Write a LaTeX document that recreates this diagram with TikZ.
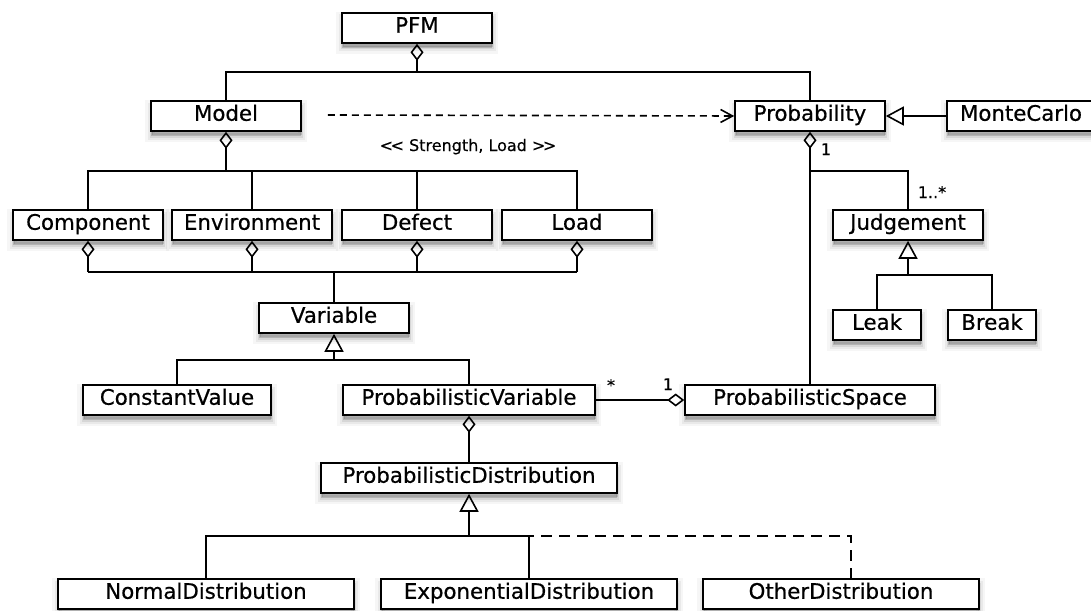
\documentclass[tikz,border=0pt]{standalone}
\usepackage{fontspec}
\setmainfont{DejaVu Sans}
\newfontfamily\clsfont{DejaVu Sans}[FakeBold=0.6]
\newfontfamily\lblfont{DejaVu Sans}[FakeBold=0.3]
\usetikzlibrary{arrows.meta,shadows}
\begin{document}
\begin{tikzpicture}[x=1pt,y=-1pt,
  shd/.style={
    general shadow={fill=black, draw=black, line width=12pt, opacity=0.035, shadow yshift=-5pt},
    general shadow={fill=black, draw=black, line width=7pt, opacity=0.05, shadow yshift=-5pt},
    general shadow={fill=black, draw=black, line width=3pt, opacity=0.08, shadow yshift=-5pt},
    general shadow={fill=black, opacity=0.15, shadow yshift=-4pt, shadow xshift=1pt}},
  cls/.style={shd, draw, line width=1.6pt, fill=white, inner sep=0pt, minimum height=30pt,
    font=\clsfont\fontsize{21.3}{21.3}\selectfont, text height=15.5pt, text depth=6pt},
  ln/.style={line width=1.6pt},
  agg/.style={ln, -{Diamond[open,length=17pt,width=13pt]}},
  gen/.style={ln, -{Triangle[open,length=18pt,width=19pt]}},
  dep/.style={ln, dash pattern=on 7pt off 5pt, -{Straight Barb[length=12pt,width=13pt]}},
  realdash/.style={ln, dash pattern=on 11pt off 7pt},
  lbl/.style={font=\lblfont\fontsize{16}{16}\selectfont, inner sep=0pt, anchor=base}]

\path[fill=white] (0,0) rectangle (1091,610);
\useasboundingbox (0,0) rectangle (1091,610);

% classes
\node[cls, minimum width=150pt] (pfm) at (417,28) {PFM};
\node[cls, minimum width=150pt] (model) at (226,116) {Model};
\node[cls, minimum width=150pt] (prob) at (810,116) {Probability};
\node[cls, minimum width=148pt] (mc) at (1021,116) {MonteCarlo};
\node[cls, minimum width=150pt] (comp) at (88,225) {Component};
\node[cls, minimum width=160pt] (env) at (252,225) {Environment};
\node[cls, minimum width=150pt] (defect) at (417,225) {Defect};
\node[cls, minimum width=150pt] (load) at (577,225) {Load};
\node[cls, minimum width=150pt] (judg) at (908,225) {Judgement};
\node[cls, minimum width=150pt] (var) at (334,318) {Variable};
\node[cls, minimum width=88pt] (leak) at (877,325) {Leak};
\node[cls, minimum width=88pt] (brk) at (992,325) {Break};
\node[cls, minimum width=188pt] (const) at (177,400) {ConstantValue};
\node[cls, minimum width=252pt] (pvar) at (469,400) {ProbabilisticVariable};
\node[cls, minimum width=250pt] (pspace) at (810,400) {ProbabilisticSpace};
\node[cls, minimum width=296pt] (pdist) at (469,478) {ProbabilisticDistribution};
\node[cls, minimum width=296pt] (normal) at (206,594) {NormalDistribution};
\node[cls, minimum width=296pt] (expo) at (529,594) {ExponentialDistribution};
\node[cls, minimum width=276pt] (other) at (841,594) {OtherDistribution};

% junctions
\coordinate (j1) at (417,72);
\coordinate (j2) at (226,171);
\coordinate (j3) at (334,272);
\coordinate (j4) at (334,360);
\coordinate (j5) at (469,536);
\coordinate (j6) at (810,171);
\coordinate (j7) at (908,275);
\coordinate (otop) at (851,579);

% PFM
\draw[agg] (j1) -- (pfm.south);
\draw[ln] (model.north) |- (j1) -| (prob.north);

% Model
\draw[agg] (j2) -- (model.south);
\draw[ln] (comp.north) |- (j2) -| (load.north);
\draw[ln] (env.north) -- (env.north |- j2);
\draw[ln] (defect.north) -- (defect.north |- j2);

% Dependency
\draw[dep] ([xshift=26pt,yshift=1pt]model.east) -- (prob.west);
\node[lbl] (stereo) at (468,151) {<\kern-2.5pt< Strength, Load >\kern-2.5pt>};

% MonteCarlo
\draw[gen] (mc.west) -- (prob.east);

% components to Variable
\draw[agg] (comp.south |- j3) -- (comp.south);
\draw[agg] (env.south |- j3) -- (env.south);
\draw[agg] (defect.south |- j3) -- (defect.south);
\draw[agg] (load.south |- j3) -- (load.south);
\draw[ln] (comp.south |- j3) -- (load.south |- j3);
\draw[ln] (var.north) -- (j3);

% Variable generalization
\draw[gen] (j4) -- (var.south);
\draw[ln] (const.north) |- (j4) -| (pvar.north);

% ProbVar - ProbDist
\draw[agg] (pdist.north) -- (pvar.south);

% ProbDist generalization
\draw[realdash] (j5) -| (otop);
\draw[gen] (j5) -- (pdist.south);
\draw[ln] (normal.north) |- (j5) -| (expo.north);

% Probability
\draw[agg] (j6) -- (prob.south);
\draw[ln] (pspace.north) -- (j6) -| (judg.north);
\node[lbl] (m1) at (826,155) {1};
\node[lbl] (m2) at (932,198) {1..*};

% Judgement
\draw[gen] (j7) -- (judg.south);
\draw[ln] (leak.north) |- (j7) -| (brk.north);

% ProbVar - ProbSpace
\draw[agg] (pvar.east) -- (pspace.west);
\node[lbl] (m3) at (611,391) {*};
\node[lbl] (m4) at (668,390) {1};
\end{tikzpicture}
\end{document}
